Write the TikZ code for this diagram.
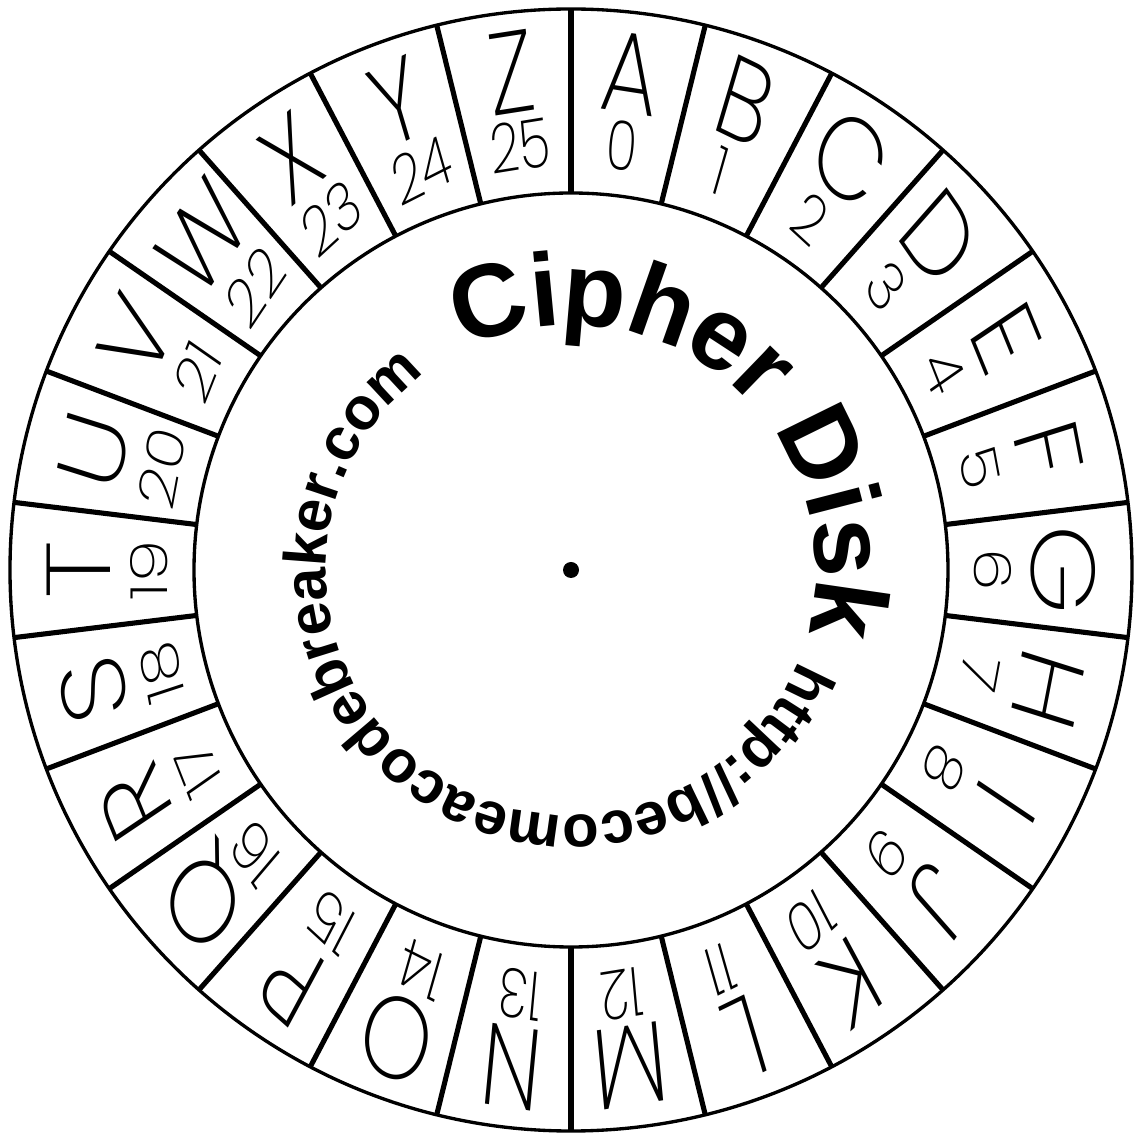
\documentclass[tikz,border=0pt]{standalone}
\usepackage{fontspec}
\newfontfamily\ringfont{Poppins}[UprightFont=* ExtraLight]
\newfontfamily\titlefont{Liberation Sans}[UprightFont=* Bold]
\usetikzlibrary{decorations.text}

\begin{document}
\begin{tikzpicture}[
  rim/.style={draw=black,line width=0.95pt},
  spoke/.style={draw=black,line width=1.45pt},
  letter/.style={anchor=base,inner sep=0pt,xscale=0.78,
                 font=\ringfont\fontsize{33}{33}\selectfont},
  number/.style={anchor=base,inner sep=0pt,xscale=0.75,
                 font=\ringfont\fontsize{19.5}{19.5}\selectfont},
]
  \useasboundingbox (-5.71,-5.74) rectangle (5.71,5.70);
  \draw[rim] (0,0) circle (5.61);
  \draw[rim] (0,0) circle (3.77);

  \foreach \n in {0,...,25}{%
    \draw[spoke] ({90-\n*360/26}:3.77) -- ({90-\n*360/26}:5.61);}

  \foreach \l [count=\n from 0] in {A,...,Z}{%
    \pgfmathsetmacro\ang{90-(\n+0.5)*360/26}
    \node[letter,rotate=\ang-90](L\n) at (\ang:4.60) {\l};
    \node[number,rotate=\ang-90](N\n) at (\ang:4.03) {\n};}

  \fill (0,0) circle (0.08);

  \path[decorate,decoration={text along path,text align=center,
      raise=-0.08cm,
      text={|\titlefont\fontsize{29.5}{29.5}\selectfont|Cipher Disk}}]
    (140.4:2.53) arc[start angle=140.4,end angle=-39.6,radius=2.53];
  \path[decorate,decoration={text along path,text align=center,
      raise=-0.04cm,
      text={|\titlefont\fontsize{17}{17}\selectfont|http://becomeacodebreaker.com}}]
    (52.5:2.49) arc[start angle=52.5,end angle=-307.5,radius=2.49];
\end{tikzpicture}
\end{document}
